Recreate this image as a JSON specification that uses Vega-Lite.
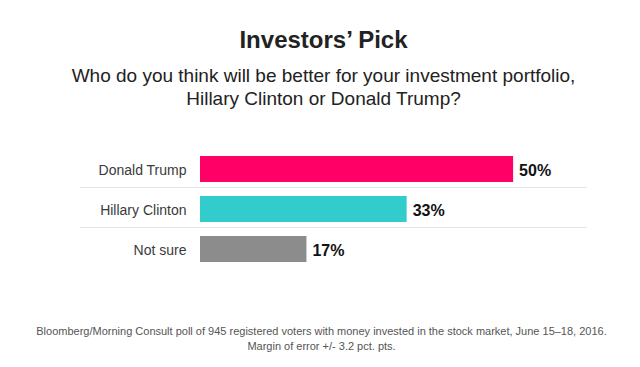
{
  "$schema": "https://vega.github.io/schema/vega-lite/v6.json",
  "autosize": {"type": "none"},
  "width": 387,
  "height": 120,
  "padding": {"left": 200, "top": 149, "right": 53, "bottom": 98},
  "background": "white",
  "title": {
    "text": "Investors’ Pick",
    "subtitle": ["Who do you think will be better for your investment portfolio,", "Hillary Clinton or Donald Trump?"],
    "anchor": "middle",
    "dx": -70,
    "font": "Liberation Sans",
    "fontSize": 24,
    "fontWeight": "bold",
    "color": "#222222",
    "subtitleFont": "Liberation Sans",
    "subtitleFontSize": 19,
    "subtitleColor": "#222222",
    "subtitleLineHeight": 23,
    "subtitlePadding": 14,
    "offset": 40
  },
  "data": {
    "values": [
      {"candidate": "Donald Trump", "pct": 0.50},
      {"candidate": "Hillary Clinton", "pct": 0.33},
      {"candidate": "Not sure", "pct": 0.17}
    ]
  },
  "encoding": {
    "y": {
      "field": "candidate",
      "type": "nominal",
      "sort": null,
      "scale": {"domain": ["Donald Trump", "Hillary Clinton", "Not sure"], "paddingInner": 0, "paddingOuter": 0},
      "axis": {
        "title": null,
        "domain": false,
        "ticks": false,
        "grid": false,
        "labelPadding": 14,
        "labelOffset": 2,
        "labelFont": "Liberation Sans",
        "labelFontSize": 14,
        "labelColor": "#3a3a3a"
      }
    }
  },
  "layer": [
    {
      "transform": [{"filter": "datum.candidate !== 'Donald Trump'"}],
      "mark": {"type": "rule", "color": "#e4e4e4", "strokeWidth": 1, "yOffset": -1.5},
      "encoding": {
        "y": {"field": "candidate", "type": "nominal", "sort": null, "bandPosition": 0},
        "x": {"datum": -0.192, "type": "quantitative"},
        "x2": {"datum": 0.618}
      }
    },
    {
      "mark": {"type": "bar", "height": {"band": 0.65}},
      "encoding": {
        "x": {
          "field": "pct",
          "type": "quantitative",
          "scale": {"domain": [0, 0.618], "nice": false, "zero": true},
          "axis": {
            "title": ["Bloomberg/Morning Consult poll of 945 registered voters with money invested in the stock market, June 15–18, 2016.", "Margin of error +/- 3.2 pct. pts."],
            "labels": false,
            "ticks": false,
            "domain": false,
            "grid": false,
            "titleFont": "Liberation Sans",
            "titleFontSize": 11,
            "titleFontWeight": "normal",
            "titleColor": "#555555",
            "titleX": 121,
            "titleY": 56,
            "titleAlign": "center",
            "titleBaseline": "top",
            "titleLineHeight": 15
          }
        },
        "color": {
          "field": "candidate",
          "type": "nominal",
          "scale": {"domain": ["Donald Trump", "Hillary Clinton", "Not sure"], "range": ["#ff0066", "#33cccc", "#8c8c8c"]},
          "legend": null
        }
      }
    },
    {
      "mark": {"type": "text", "align": "left", "baseline": "middle", "dx": 6, "dy": 2, "font": "Liberation Sans", "fontSize": 16, "fontWeight": "bold", "color": "#111111"},
      "encoding": {
        "x": {"field": "pct", "type": "quantitative"},
        "text": {"field": "pct", "type": "quantitative", "format": ".0%"}
      }
    }
  ],
  "config": {
    "view": {"stroke": null}
  }
}
